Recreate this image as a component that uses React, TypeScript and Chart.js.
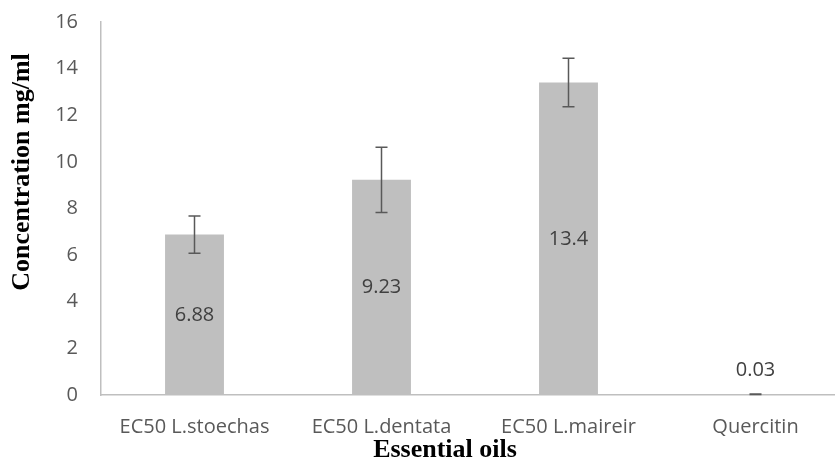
import React, { useEffect, useRef } from "react";
import { Chart, registerables } from "chart.js";

Chart.register(...registerables);

const categories = ["EC50 L.stoechas", "EC50 L.dentata", "EC50 L.maireir", "Quercitin"];
const values = [6.88, 9.23, 13.4, 0.03];
const errors = [0.8, 1.4, 1.04, 0.01];
const valueLabels = ["6.88", "9.23", "13.4", "0.03"];
const yTitle = "Concentration mg/ml";
const xTitle = "Essential oils";

const TICK_FONT = "'Open Sans', 'Noto Sans', sans-serif";
const TITLE_FONT = "'Liberation Serif', 'DejaVu Serif', serif";

const errorBarPlugin = {
  id: "errorBars",
  afterDatasetsDraw(chart: any) {
    const meta = chart.getDatasetMeta(0);
    const y = chart.scales.y;
    const ctx = chart.ctx;
    ctx.save();
    ctx.strokeStyle = "#595959";
    ctx.lineWidth = 1.5;
    meta.data.forEach((bar: any, i: number) => {
      const v = values[i];
      const e = errors[i];
      const top = y.getPixelForValue(v + e);
      const bot = y.getPixelForValue(v - e);
      const x = bar.x;
      const cap = 6;
      ctx.beginPath();
      ctx.moveTo(x, top);
      ctx.lineTo(x, bot);
      ctx.moveTo(x - cap, top);
      ctx.lineTo(x + cap, top);
      ctx.moveTo(x - cap, bot);
      ctx.lineTo(x + cap, bot);
      ctx.stroke();
    });
    ctx.restore();
  },
};

const valueLabelPlugin = {
  id: "valueLabels",
  afterDatasetsDraw(chart: any) {
    const meta = chart.getDatasetMeta(0);
    const ctx = chart.ctx;
    ctx.save();
    ctx.fillStyle = "#404040";
    ctx.font = `20px ${TICK_FONT}`;
    ctx.textAlign = "center";
    ctx.textBaseline = "middle";
    meta.data.forEach((bar: any, i: number) => {
      const h = bar.base - bar.y;
      const yPos = h > 40 ? (bar.y + bar.base) / 2 : bar.y - 24;
      ctx.fillText(valueLabels[i], bar.x, yPos);
    });
    ctx.restore();
  },
};

const titlePlugin = {
  id: "axisTitles",
  afterDraw(chart: any) {
    const ctx = chart.ctx;
    ctx.save();
    ctx.fillStyle = "#000000";
    ctx.font = `bold 26px ${TITLE_FONT}`;
    ctx.textAlign = "center";
    ctx.textBaseline = "middle";
    ctx.fillText(xTitle, 445, 450);
    ctx.translate(22, 172);
    ctx.rotate(-Math.PI / 2);
    ctx.fillText(yTitle, 0, 0);
    ctx.restore();
  },
};

export default function App() {
  const ref = useRef<HTMLCanvasElement>(null);

  useEffect(() => {
    if (!ref.current) return;
    const chart = new Chart(ref.current, {
      type: "bar",
      data: {
        labels: categories,
        datasets: [
          {
            data: values,
            backgroundColor: "#bfbfbf",
            borderWidth: 0,
            barPercentage: 0.315,
            categoryPercentage: 1,
          },
        ],
      },
      options: {
        responsive: false,
        animation: false,
        devicePixelRatio: 1,
        layout: { padding: { top: 22, left: 0, right: 0, bottom: 0 } },
        plugins: {
          legend: { display: false },
          tooltip: { enabled: false },
        },
        scales: {
          x: {
            grid: { display: false, drawTicks: false },
            border: { display: true, color: "#bfbfbf", width: 1.5 },
            ticks: {
              color: "#595959",
              font: { family: TICK_FONT, size: 20 },
              padding: 20,
              maxRotation: 0,
              autoSkip: false,
            },
            afterFit(scale: any) {
              scale.height = 69;
              scale.paddingLeft = 0;
              scale.paddingRight = 0;
            },
          },
          y: {
            min: 0,
            max: 16,
            grid: { display: false, drawTicks: false },
            border: { display: true, color: "#bfbfbf", width: 1.5 },
            ticks: {
              stepSize: 2,
              color: "#595959",
              font: { family: TICK_FONT, size: 20 },
              padding: 23,
            },
            afterFit(scale: any) {
              scale.width = 101;
              scale.paddingTop = 0;
              scale.paddingBottom = 0;
            },
          },
        },
      },
      plugins: [errorBarPlugin, valueLabelPlugin, titlePlugin],
    });
    return () => chart.destroy();
  }, []);

  return (
    <div
      style={{
        position: "fixed",
        left: 0,
        top: 0,
        width: 835,
        height: 464,
        overflow: "hidden",
        background: "#ffffff",
      }}
    >
      <canvas ref={ref} width={849} height={464} style={{ display: "block" }} />
    </div>
  );
}
